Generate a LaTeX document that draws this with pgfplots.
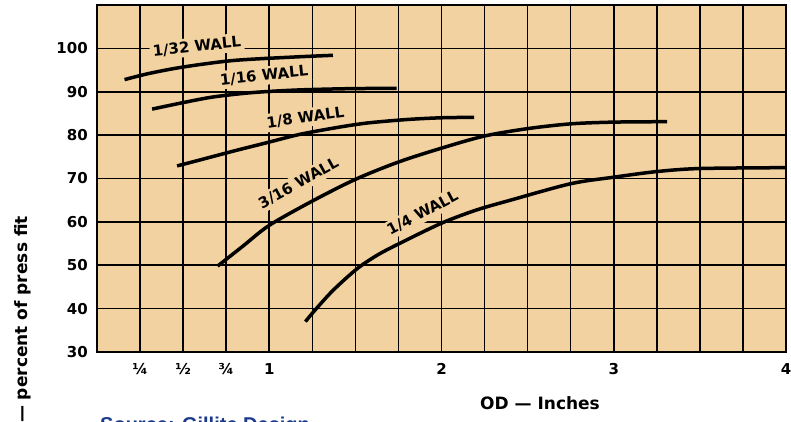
\documentclass[border=0pt]{standalone}
\usepackage{pgfplots}
\pgfplotsset{compat=1.18}
\usepackage{fontspec}
\setmainfont{Liberation Sans}
\newfontfamily\blocky{DejaVu Sans}
\definecolor{bgc}{RGB}{241,210,160}
\definecolor{srcblue}{RGB}{27,58,140}
\newcommand{\tf}{\blocky\bfseries\fontsize{15}{15}\selectfont}
\begin{document}
\begin{tikzpicture}[x=1pt,y=1pt]
\begin{axis}[
  at={(97pt,-352pt)}, anchor=south west,
  scale only axis, width=689pt, height=347pt,
  xmin=0, xmax=4, ymin=30, ymax=110,
  axis background/.style={fill=bgc},
  axis line style={black, line width=2pt},
  grid=major,
  major grid style={black, line width=1.6pt},
  major tick length=0pt,
  xtick={0,0.25,0.5,0.75,1,1.25,1.5,1.75,2,2.25,2.5,2.75,3,3.25,3.5,3.75,4},
  xticklabels={,¼,½,¾,1,,,,2,,,,3,,,,4},
  ytick={30,40,50,60,70,80,90,100,110},
  yticklabels={30,40,50,60,70,80,90,100,},
  xticklabel style={font=\tf, inner sep=0pt, anchor=north, yshift=-11pt},
  yticklabel style={font=\tf, inner sep=0pt, anchor=east, xshift=-9pt},
  clip=false,
]
% curve labels (drawn first so their fill hides the grid but not the curves)
\node[rotate=6, fill=bgc, inner sep=3pt, font=\tf] at (axis cs:0.58,100.4) {1/32 WALL};
\node[rotate=6, fill=bgc, inner sep=3pt, font=\tf] at (axis cs:0.97,93.7) {1/16 WALL};
\node[rotate=8, fill=bgc, inner sep=3pt, font=\tf] at (axis cs:1.21,84.0) {1/8 WALL};
\node[rotate=29, fill=bgc, inner sep=3pt, font=\tf] at (axis cs:1.17,68.9) {3/16 WALL};
\node[rotate=28, fill=bgc, inner sep=3pt, font=\tf] at (axis cs:1.89,62.0) {1/4 WALL};

\addplot[black, line width=3.5pt, smooth] coordinates {
 (0.16,92.8) (0.3,94.2) (0.5,95.7) (0.79,97.2) (1.14,98.0) (1.37,98.4)};
\addplot[black, line width=3.5pt, smooth] coordinates {
 (0.32,86.0) (0.5,87.5) (0.675,88.8) (0.9,89.8) (1.16,90.4) (1.45,90.7) (1.74,90.8)};
\addplot[black, line width=3.5pt, smooth] coordinates {
 (0.465,72.9) (0.6,74.3) (0.8,76.4) (1.0,78.4) (1.18,80.2) (1.4,81.8) (1.57,82.8) (1.8,83.6) (2.0,84.0) (2.19,84.1)};
\addplot[black, line width=3.5pt, smooth] coordinates {
 (0.70,49.8) (0.85,54.5) (1.0,59.2) (1.25,64.8) (1.5,69.8) (1.75,73.8) (2.0,77.0) (2.25,79.8) (2.5,81.5) (2.75,82.6) (3.0,83.0) (3.31,83.1)};
\addplot[black, line width=3.5pt, smooth] coordinates {
 (1.21,37.0) (1.26,39.4) (1.37,44.2) (1.51,49.2) (1.63,52.4) (1.76,55.1) (2.0,59.7) (2.2,62.7) (2.4,65.0) (2.75,68.8) (3.0,70.3) (3.25,71.6) (3.5,72.3) (4.0,72.5)};
\end{axis}
\node[rotate=90, anchor=east, font=\blocky\bfseries\fontsize{17}{17}\selectfont, inner sep=0pt] at (23pt,-216pt) {— percent of press fit};
\node[font=\blocky\bfseries\fontsize{17}{17}\selectfont, inner sep=0pt] at (540pt,-403pt) {OD — Inches};
\node[anchor=base west, inner sep=0pt, text=srcblue, font=\bfseries\fontsize{20}{20}\selectfont] at (100pt,-431pt) {Source: Gillite Design};
\pgfresetboundingbox
\useasboundingbox (0,0) rectangle (791pt,-422pt);
\end{tikzpicture}
\end{document}
